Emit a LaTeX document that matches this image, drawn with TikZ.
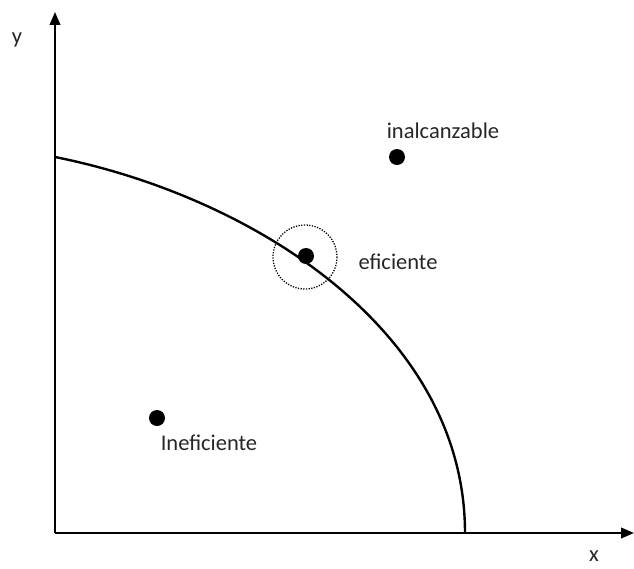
\documentclass[tikz,border=0pt]{standalone}
\usepackage{fontspec}
\setmainfont{Carlito}
\usetikzlibrary{arrows.meta, positioning}

\begin{document}
\begin{tikzpicture}[
  x=0.025cm, y=-0.025cm,
  >={Triangle[length=3.2mm, width=2.6mm]},
  punto/.style={circle, fill=black, inner sep=0pt, minimum size=4mm},
  every node/.style={font=\fontsize{16}{19}\selectfont, text=black!85},
]
  \useasboundingbox (0,0) rectangle (634,568);

  % axes
  \coordinate (O) at (55,533);
  \coordinate (ytop) at (55,12);
  \coordinate (xend) at (634,533);
  \draw[->, line width=1.5pt] (O) -- (ytop);
  \draw[->, line width=1.5pt] (O) -- (xend);
  \node (ylbl) at (17,40) {y};
  \node (xlbl) at (594,556) {x};

  % frontier
  \coordinate (fa) at (55,157);
  \coordinate (fb) at (465,533);
  \draw[line width=1.7pt] (fa) .. controls (255,197) and (465,332) .. (fb);

  % points
  \node[punto] (inal) at (397,157) {};
  \node (inallbl) at (443,131) {inalcanzable};
  \node[punto] (efic) at (306,256) {};
  \draw[densely dotted, line width=0.9pt] (305,257) circle (32);
  \node (eficlbl) at (398,262) {eficiente};
  \node[punto] (inef) at (157,418) {};
  \node (ineflbl) at (209,443) {Ineficiente};
\end{tikzpicture}
\end{document}
